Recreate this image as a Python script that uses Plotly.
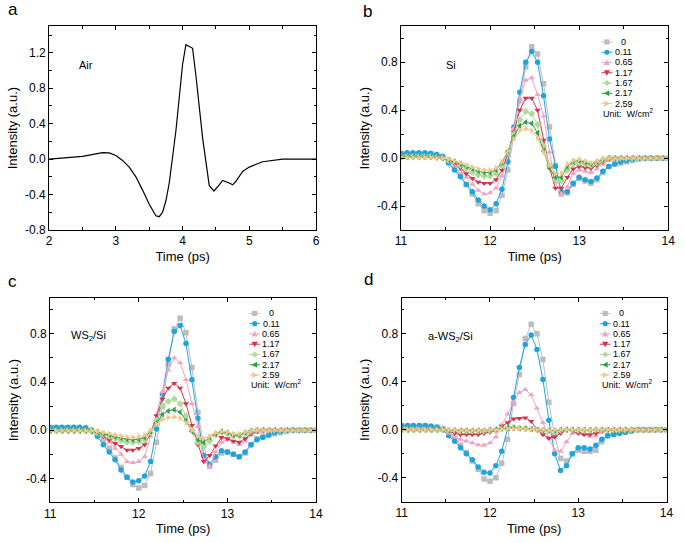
import plotly.graph_objects as go

W, H = 685, 543
FONT = "Arial, Liberation Sans, sans-serif"

# ---------------- data ----------------
air_time = [2.0, 2.5, 2.8, 2.9, 3.0, 3.1, 3.2, 3.3, 3.4, 3.5, 3.6, 3.65, 3.7, 3.75, 3.8, 3.9,
            4.0, 4.05, 4.1, 4.15, 4.2, 4.3, 4.4, 4.47, 4.55, 4.6, 4.7, 4.75, 4.8, 4.9, 5.0,
            5.2, 5.5, 5.7, 6.0]
air_intensity = [0.0, 0.03, 0.074, 0.07, 0.04, -0.015, -0.09, -0.2, -0.35, -0.51, -0.64, -0.65,
                 -0.60, -0.47, -0.27, 0.32, 1.07, 1.29, 1.27, 1.25, 0.94, 0.24, -0.30, -0.36,
                 -0.29, -0.24, -0.27, -0.29, -0.25, -0.14, -0.09, -0.03, 0.0, 0.003, 0.0]

time_ps = [11.0, 11.067, 11.133, 11.2, 11.267, 11.333, 11.4, 11.467, 11.533, 11.6,
           11.667, 11.733, 11.8, 11.867, 11.933, 12.0, 12.067, 12.133, 12.2, 12.267,
           12.333, 12.4, 12.467, 12.533, 12.6, 12.667, 12.733, 12.8, 12.867, 12.933,
           13.0, 13.067, 13.133, 13.2, 13.267, 13.333, 13.4, 13.467, 13.533, 13.6,
           13.667, 13.733, 13.8, 13.867, 13.933, 14.0]

power_labels = ["0", "0.11", "0.65", "1.17", "1.67", "2.17", "2.59"]

# Panel b: Si
si_0 = [0.03, 0.03, 0.035, 0.035, 0.03, 0.03, 0.02, 0.01, -0.02, -0.07, -0.14, -0.22, -0.30, -0.38, -0.44, -0.46, -0.44, -0.31, -0.10, 0.20, 0.48, 0.76, 0.93, 0.87, 0.62, 0.26, -0.06, -0.30, -0.29, -0.22, -0.17, -0.19, -0.21, -0.18, -0.12, -0.07, -0.05, -0.04, -0.03, -0.02, -0.01, 0.0, 0.0, 0.0, 0.0, 0.0]
si_011 = [0.04, 0.045, 0.045, 0.045, 0.045, 0.04, 0.03, 0.015, -0.04, -0.10, -0.155, -0.22, -0.28, -0.35, -0.40, -0.43, -0.38, -0.26, -0.03, 0.26, 0.55, 0.80, 0.89, 0.80, 0.52, 0.16, -0.07, -0.28, -0.28, -0.21, -0.16, -0.18, -0.195, -0.165, -0.11, -0.07, -0.05, -0.03, -0.02, -0.01, 0.0, 0.0, 0.0, 0.0, 0.0, 0.0]
si_065 = [0.015, 0.015, 0.015, 0.015, 0.015, 0.015, 0.01, 0.005, -0.02, -0.05, -0.10, -0.16, -0.22, -0.27, -0.30, -0.29, -0.25, -0.15, 0.02, 0.25, 0.50, 0.65, 0.67, 0.53, 0.35, 0.05, -0.20, -0.30, -0.24, -0.13, -0.10, -0.11, -0.12, -0.09, -0.05, -0.02, -0.01, 0.0, 0.0, 0.0, 0.0, 0.0, 0.0, 0.0, 0.0, 0.0]
si_117 = [0.01, 0.01, 0.01, 0.01, 0.01, 0.01, 0.01, 0.0, -0.02, -0.04, -0.08, -0.13, -0.17, -0.20, -0.21, -0.21, -0.18, -0.10, 0.04, 0.22, 0.40, 0.50, 0.50, 0.40, 0.15, -0.08, -0.25, -0.25, -0.16, -0.09, -0.07, -0.08, -0.085, -0.06, -0.03, -0.01, 0.0, 0.0, 0.0, 0.0, 0.0, 0.0, 0.0, 0.0, 0.0, 0.0]
si_167 = [0.01, 0.01, 0.01, 0.01, 0.01, 0.01, 0.005, 0.0, -0.02, -0.03, -0.06, -0.09, -0.12, -0.14, -0.15, -0.15, -0.13, -0.06, 0.05, 0.20, 0.32, 0.39, 0.37, 0.28, 0.10, -0.06, -0.18, -0.19, -0.10, -0.05, -0.04, -0.05, -0.06, -0.04, -0.015, 0.0, 0.0, 0.0, 0.0, 0.0, 0.0, 0.0, 0.0, 0.0, 0.0, 0.0]
si_217 = [0.01, 0.01, 0.01, 0.01, 0.01, 0.01, 0.005, 0.0, -0.015, -0.03, -0.05, -0.07, -0.09, -0.11, -0.12, -0.12, -0.10, -0.04, 0.06, 0.18, 0.27, 0.30, 0.29, 0.21, 0.06, -0.085, -0.16, -0.16, -0.07, -0.03, -0.02, -0.035, -0.05, -0.03, -0.01, 0.0, 0.0, 0.0, 0.0, 0.0, 0.0, 0.0, 0.0, 0.0, 0.0, 0.0]
si_259 = [0.005, 0.005, 0.005, 0.005, 0.005, 0.005, 0.0, 0.0, -0.01, -0.025, -0.04, -0.06, -0.075, -0.09, -0.10, -0.10, -0.08, -0.03, 0.06, 0.16, 0.23, 0.245, 0.23, 0.17, 0.05, -0.06, -0.13, -0.13, -0.05, -0.02, -0.01, -0.025, -0.04, -0.025, -0.005, 0.0, 0.0, 0.0, 0.0, 0.0, 0.0, 0.0, 0.0, 0.0, 0.0, 0.0]

# Panel c: WS2/Si
ws2_0 = [0.02, 0.02, 0.02, 0.02, 0.02, 0.015, 0.01, 0.0, -0.03, -0.08, -0.15, -0.23, -0.31, -0.39, -0.45, -0.48, -0.46, -0.36, -0.10, 0.20, 0.55, 0.84, 0.93, 0.81, 0.52, 0.15, -0.13, -0.30, -0.25, -0.19, -0.18, -0.20, -0.22, -0.19, -0.12, -0.07, -0.05, -0.04, -0.03, -0.02, -0.01, 0.0, 0.0, 0.0, 0.0, 0.0]
ws2_011 = [0.025, 0.025, 0.025, 0.025, 0.025, 0.025, 0.02, 0.0, -0.05, -0.12, -0.18, -0.245, -0.33, -0.39, -0.43, -0.42, -0.38, -0.26, 0.01, 0.30, 0.59, 0.82, 0.87, 0.72, 0.42, 0.10, -0.21, -0.28, -0.22, -0.17, -0.18, -0.20, -0.22, -0.18, -0.12, -0.08, -0.06, -0.04, -0.02, -0.01, 0.0, 0.0, 0.0, 0.0, 0.0, 0.0]
ws2_065 = [-0.005, -0.005, -0.005, -0.005, -0.005, -0.005, -0.005, -0.01, -0.03, -0.06, -0.10, -0.15, -0.20, -0.26, -0.27, -0.26, -0.22, -0.05, 0.13, 0.32, 0.50, 0.60, 0.56, 0.42, 0.22, 0.03, -0.25, -0.30, -0.18, -0.10, -0.08, -0.10, -0.12, -0.09, -0.04, -0.02, -0.01, 0.0, 0.0, 0.0, 0.0, 0.0, 0.0, 0.0, 0.0, 0.0]
ws2_117 = [-0.005, -0.005, -0.005, -0.005, -0.005, -0.005, -0.005, -0.01, -0.025, -0.05, -0.08, -0.11, -0.135, -0.165, -0.165, -0.15, -0.12, -0.03, 0.12, 0.26, 0.35, 0.39, 0.35, 0.22, 0.04, -0.12, -0.26, -0.21, -0.13, -0.06, -0.07, -0.09, -0.10, -0.07, -0.03, -0.01, 0.0, 0.0, 0.0, 0.0, 0.0, 0.0, 0.0, 0.0, 0.0, 0.0]
ws2_167 = [-0.005, -0.005, -0.005, -0.005, -0.005, -0.005, -0.005, -0.01, -0.02, -0.035, -0.05, -0.07, -0.085, -0.10, -0.10, -0.095, -0.08, -0.02, 0.08, 0.20, 0.24, 0.26, 0.22, 0.12, 0.0, -0.10, -0.13, -0.09, -0.04, -0.02, -0.03, -0.05, -0.05, -0.03, -0.01, 0.0, 0.0, 0.0, 0.0, 0.0, 0.0, 0.0, 0.0, 0.0, 0.0, 0.0]
ws2_217 = [-0.005, -0.005, -0.005, -0.005, -0.005, -0.005, -0.005, -0.01, -0.015, -0.03, -0.04, -0.055, -0.065, -0.075, -0.08, -0.075, -0.06, -0.01, 0.06, 0.13, 0.16, 0.17, 0.15, 0.08, -0.01, -0.08, -0.10, -0.06, -0.03, -0.01, -0.02, -0.04, -0.04, -0.02, -0.005, 0.0, 0.0, 0.0, 0.0, 0.0, 0.0, 0.0, 0.0, 0.0, 0.0, 0.0]
ws2_259 = [-0.005, -0.005, -0.005, -0.005, -0.005, -0.005, -0.005, -0.005, -0.01, -0.02, -0.03, -0.04, -0.05, -0.055, -0.06, -0.055, -0.04, 0.0, 0.05, 0.09, 0.105, 0.11, 0.10, 0.06, 0.0, -0.05, -0.07, -0.05, -0.02, -0.01, -0.015, -0.03, -0.03, -0.015, -0.005, 0.0, 0.0, 0.0, 0.0, 0.0, 0.0, 0.0, 0.0, 0.0, 0.0, 0.0]

# Panel d: a-WS2/Si
aws2_0 = [0.03, 0.03, 0.03, 0.03, 0.03, 0.03, 0.02, 0.01, -0.02, -0.07, -0.13, -0.19, -0.26, -0.33, -0.41, -0.43, -0.40, -0.28, -0.08, 0.22, 0.46, 0.76, 0.88, 0.80, 0.585, 0.23, -0.05, -0.24, -0.26, -0.20, -0.17, -0.18, -0.18, -0.17, -0.10, -0.05, -0.04, -0.03, -0.02, -0.01, 0.0, 0.0, 0.0, 0.0, 0.0, 0.0]
aws2_011 = [0.035, 0.035, 0.035, 0.035, 0.035, 0.03, 0.02, 0.0, -0.05, -0.095, -0.15, -0.20, -0.25, -0.31, -0.355, -0.36, -0.30, -0.18, 0.01, 0.27, 0.52, 0.71, 0.79, 0.67, 0.42, 0.08, -0.20, -0.34, -0.30, -0.20, -0.15, -0.15, -0.16, -0.13, -0.08, -0.05, -0.04, -0.03, -0.02, -0.01, 0.0, 0.0, 0.0, 0.0, 0.0, 0.0]
aws2_065 = [0.0, 0.0, 0.0, 0.0, 0.0, 0.0, 0.0, 0.0, -0.03, -0.06, -0.08, -0.095, -0.11, -0.125, -0.13, -0.11, -0.06, 0.04, 0.13, 0.23, 0.31, 0.335, 0.29, 0.18, 0.06, -0.07, -0.17, -0.18, -0.10, -0.03, -0.02, -0.04, -0.055, -0.05, -0.02, -0.01, 0.0, 0.0, 0.0, 0.0, 0.0, 0.0, 0.0, 0.0, 0.0, 0.0]
aws2_117 = [0.0, 0.0, 0.0, 0.0, 0.0, 0.0, 0.0, 0.0, -0.01, -0.03, -0.04, -0.04, -0.04, -0.04, -0.03, -0.02, -0.01, 0.03, 0.06, 0.09, 0.095, 0.10, 0.07, 0.0, -0.04, -0.07, -0.06, -0.03, 0.0, -0.01, -0.03, -0.04, -0.04, -0.03, -0.01, 0.0, 0.0, 0.0, 0.0, 0.0, 0.0, 0.0, 0.0, 0.0, 0.0, 0.0]
aws2_167 = [0.0, 0.0, 0.0, 0.0, 0.0, 0.0, 0.0, 0.0, -0.005, -0.005, -0.01, -0.01, -0.01, -0.01, -0.01, -0.005, 0.0, 0.01, 0.015, 0.02, 0.015, 0.01, 0.005, 0.0, -0.005, -0.01, -0.01, -0.005, 0.0, 0.0, -0.005, -0.005, -0.005, 0.0, 0.0, 0.0, 0.0, 0.0, 0.0, 0.0, 0.0, 0.0, 0.0, 0.0, 0.0, 0.0]
aws2_217 = [0.0, 0.0, 0.0, 0.0, 0.0, 0.0, 0.0, 0.0, -0.005, -0.005, -0.005, -0.005, -0.005, -0.005, -0.005, 0.0, 0.005, 0.01, 0.015, 0.015, 0.01, 0.01, 0.005, 0.0, -0.005, -0.005, -0.005, 0.0, 0.0, 0.0, 0.0, 0.0, 0.0, 0.0, 0.0, 0.0, 0.0, 0.0, 0.0, 0.0, 0.0, 0.0, 0.0, 0.0, 0.0, 0.0]
aws2_259 = [0.0, 0.0, 0.0, 0.0, 0.0, 0.0, 0.0, 0.0, 0.0, 0.0, -0.005, -0.005, -0.005, -0.005, -0.005, 0.0, 0.0, 0.005, 0.01, 0.01, 0.01, 0.005, 0.005, 0.0, 0.0, -0.005, 0.0, 0.0, 0.0, 0.0, 0.0, 0.0, 0.0, 0.0, 0.0, 0.0, 0.0, 0.0, 0.0, 0.0, 0.0, 0.0, 0.0, 0.0, 0.0, 0.0]

ytick_a_vals = [-0.8, -0.4, 0.0, 0.4, 0.8, 1.2]
ytick_a_text = ["-0.8", "-0.4", "0.0", "0.4", "0.8", "1.2"]
ytick_vals = [-0.4, 0.0, 0.4, 0.8]
ytick_text = ["-0.4", "0.0", "0.4", "0.8"]
xtick_a_vals = [2, 3, 4, 5, 6]
xtick_vals = [11, 12, 13, 14]

# ---------------- styles ----------------
colors = ["#bdbdbd", "#1ea5de", "#f2a2c3", "#d5324b", "#b2da9b", "#2f9f46", "#f6c58c"]
symbols = ["square", "circle", "triangle-up", "triangle-down", "diamond", "triangle-left", "triangle-right"]

panels = [
    ("x2", "y2", [si_0, si_011, si_065, si_117, si_167, si_217, si_259]),
    ("x3", "y3", [ws2_0, ws2_011, ws2_065, ws2_117, ws2_167, ws2_217, ws2_259]),
    ("x4", "y4", [aws2_0, aws2_011, aws2_065, aws2_117, aws2_167, aws2_217, aws2_259]),
]

# pixel boxes of plot areas: (left, right, top, bottom)
boxes = {
    "1": (44.0, 316.0, 26.5, 233.0),
    "2": (402.7, 675.0, 26.7, 233.0),
    "3": (45.0, 316.0, 301.7, 509.0),
    "4": (403.3, 673.3, 301.7, 508.3),
}


def px(x, y):
    return x / W, 1 - y / H


fig = go.Figure()

fig.add_trace(go.Scatter(x=air_time, y=air_intensity, mode="lines",
                         line=dict(color="black", width=1.2), xaxis="x", yaxis="y",
                         showlegend=False))

for xa, ya, series in panels:
    for vals, c, s, lab in zip(series, colors, symbols, power_labels):
        fig.add_trace(go.Scatter(x=time_ps, y=vals, mode="lines+markers", name=lab,
                                 xaxis=xa, yaxis=ya, showlegend=False,
                                 line=dict(color=c, width=1),
                                 marker=dict(symbol=s, size=5.5, color=c, line=dict(width=0))))

axis_common = dict(showline=True, linecolor="black", linewidth=1, mirror="allticks",
                   ticks="inside", ticklen=4, tickwidth=1, tickcolor="black",
                   showgrid=False, zeroline=False,
                   tickfont=dict(family=FONT, size=12, color="black"))

layout = dict(width=W, height=H, margin=dict(l=0, r=0, t=0, b=0),
              paper_bgcolor="white", plot_bgcolor="white", showlegend=False,
              font=dict(family=FONT, color="black"))

for key, (l, r, t, b) in boxes.items():
    xk = "xaxis" if key == "1" else "xaxis" + key
    yk = "yaxis" if key == "1" else "yaxis" + key
    suffix = "" if key == "1" else key
    if key == "1":
        xr, yr = [2, 6], [-0.8, 1.5]
        xtv = xtick_a_vals
        ytv, ytt = ytick_a_vals, ytick_a_text
    else:
        xr, yr = [11, 14], [-0.6, 1.1]
        xtv = xtick_vals
        ytv, ytt = ytick_vals, ytick_text
    layout[xk] = dict(axis_common, domain=[l / W, r / W], range=xr, anchor="y" + suffix,
                      tickmode="array", tickvals=xtv, ticktext=[str(v) for v in xtv],
                      minor=dict(ticks="inside", ticklen=2.5, dtick=0.5, tick0=0,
                                 tickcolor="black", tickwidth=1),
                      title=dict(text="Time (ps)", font=dict(family=FONT, size=13), standoff=4))
    layout[yk] = dict(axis_common, domain=[1 - b / H, 1 - t / H], range=yr, anchor="x" + suffix,
                      tickmode="array", tickvals=ytv, ticktext=ytt,
                      minor=dict(ticks="inside", ticklen=2.5, dtick=0.2, tick0=0,
                                 tickcolor="black", tickwidth=1),
                      title=dict(text="Intensity (a.u.)", font=dict(family=FONT, size=13), standoff=4))

fig.update_layout(**layout)

annotations = []
shapes = []

# panel letters
for letter, (x, y) in zip(["a", "b", "c", "d"], [(7, 10), (369, 12), (7, 285), (370, 283)]):
    ax, ay = px(x, y)
    annotations.append(dict(text=letter, x=ax, y=ay, xref="paper", yref="paper",
                            showarrow=False, xanchor="center", yanchor="middle",
                            font=dict(family=FONT, size=17, color="black")))

# sample labels
for txt, (x, y) in zip(["Air", "Si", "WS<sub>2</sub>/Si", "a-WS<sub>2</sub>/Si"],
                       [(72, 66), (446, 66), (64, 340), (428, 341)]):
    ax, ay = px(x, y)
    annotations.append(dict(text=txt, x=ax, y=ay, xref="paper", yref="paper",
                            showarrow=False, xanchor="left", yanchor="middle",
                            font=dict(family=FONT, size=11, color="black")))


def marker_shape(sym, cx, cy, color, r=2.6):
    def P(x, y):
        a, b = px(x, y)
        return f"{a:.5f},{b:.5f}"
    if sym == "square":
        x0, y0 = px(cx - r, cy + r)
        x1, y1 = px(cx + r, cy - r)
        return dict(type="rect", xref="paper", yref="paper", x0=x0, y0=y0, x1=x1, y1=y1,
                    fillcolor=color, line=dict(width=0))
    if sym == "circle":
        x0, y0 = px(cx - r, cy + r)
        x1, y1 = px(cx + r, cy - r)
        return dict(type="circle", xref="paper", yref="paper", x0=x0, y0=y0, x1=x1, y1=y1,
                    fillcolor=color, line=dict(width=0))
    rr = r * 1.2
    if sym == "triangle-up":
        pts = [(cx, cy - rr), (cx + rr, cy + rr * 0.8), (cx - rr, cy + rr * 0.8)]
    elif sym == "triangle-down":
        pts = [(cx, cy + rr), (cx + rr, cy - rr * 0.8), (cx - rr, cy - rr * 0.8)]
    elif sym == "triangle-left":
        pts = [(cx - rr, cy), (cx + rr * 0.8, cy - rr), (cx + rr * 0.8, cy + rr)]
    elif sym == "triangle-right":
        pts = [(cx + rr, cy), (cx - rr * 0.8, cy - rr), (cx - rr * 0.8, cy + rr)]
    else:  # diamond
        pts = [(cx, cy - rr), (cx + rr, cy), (cx, cy + rr), (cx - rr, cy)]
    path = "M " + " L ".join(P(x, y) for x, y in pts) + " Z"
    return dict(type="path", xref="paper", yref="paper", path=path,
                fillcolor=color, line=dict(width=0))


for key in ["2", "3", "4"]:
    l, r, t, b = boxes[key]
    x0, x1, xc, xl = r - 68, r - 57, r - 62.5, r - 45.5
    for i, (lab, c, s) in enumerate(zip(power_labels, colors, symbols)):
        y = t + 15.8 + 10.4 * i
        a0, yy = px(x0, y)
        a1, _ = px(x1, y)
        shapes.append(dict(type="line", xref="paper", yref="paper", x0=a0, x1=a1, y0=yy, y1=yy,
                           line=dict(color=c, width=1)))
        shapes.append(marker_shape(s, xc, y, c))
        al, _ = px(xl, y)
        annotations.append(dict(text=lab, x=al, y=yy, xref="paper", yref="paper",
                                showarrow=False, xanchor="center", yanchor="middle",
                                font=dict(family=FONT, size=9, color="black")))
    ux, uy = px(x0, t + 15.8 + 72)
    annotations.append(dict(text="Unit:  W/cm<sup>2</sup>", x=ux, y=uy, xref="paper", yref="paper",
                            showarrow=False, xanchor="left", yanchor="middle",
                            font=dict(family=FONT, size=9, color="black")))

fig.update_layout(annotations=annotations, shapes=shapes)

fig.write_html("out.html", config={"displayModeBar": False},
               post_script="document.body.style.margin='0';")
